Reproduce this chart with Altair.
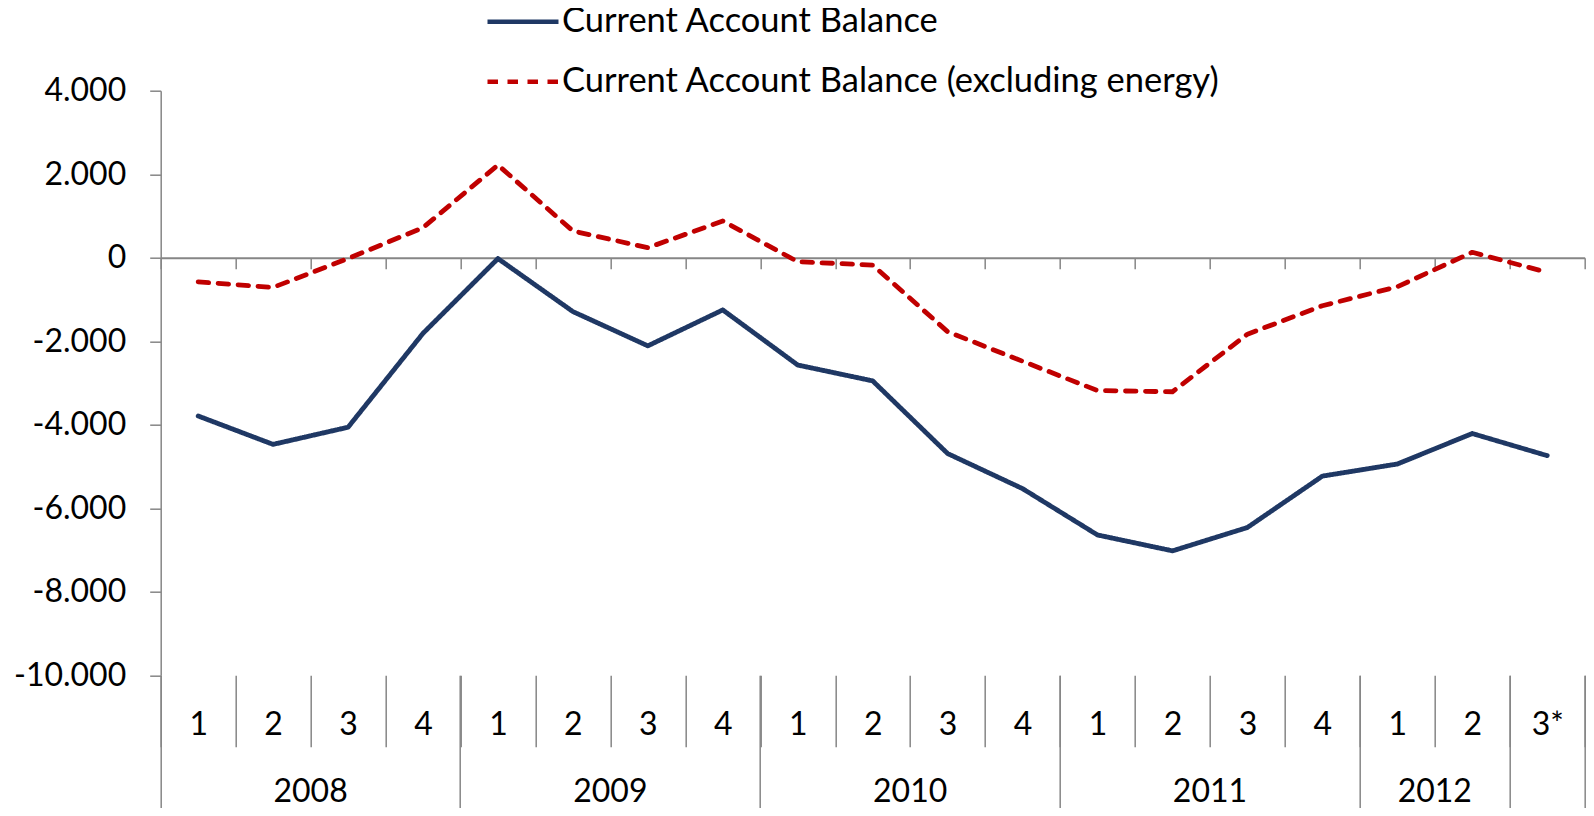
import altair as alt
import pandas as pd

# ---- data ----
quarters = ["1", "2", "3", "4", "1", "2", "3", "4", "1", "2", "3", "4",
            "1", "2", "3", "4", "1", "2", "3*"]
groups = ["2008"] * 4 + ["2009"] * 4 + ["2010"] * 4 + ["2011"] * 4 + ["2012"] * 2 + [""]
cab = [-3790, -4470, -4060, -1810, -20, -1290, -2110, -1250, -2570, -2950,
       -4690, -5530, -6640, -7020, -6460, -5230, -4940, -4210, -4740]
cab_ex = [-580, -710, -20, 720, 2220, 640, 240, 880, -96, -175,
          -1772, -2480, -3180, -3210, -1830, -1150, -695, 130, -350]
series_names = ["Current Account Balance", "Current Account Balance (excluding energy)"]
series_colors = ["#1F3864", "#C00000"]
y_ticks = [-10000, -8000, -6000, -4000, -2000, 0, 2000, 4000]
y_domain = [-10000, 4000]

# ---- derived tables ----
keys = [f"{g}|{q}" for g, q in zip(groups, quarters)]
rows = []
for name, vals in zip(series_names, [cab, cab_ex]):
    for k, q, g, v in zip(keys, quarters, groups, vals):
        rows.append({"key": k, "quarter": q, "group": g, "series": name, "value": v})
df = pd.DataFrame(rows)
df_keys = pd.DataFrame({"key": keys})

start_keys = [keys[i] for i in range(len(keys)) if i == 0 or groups[i] != groups[i - 1]]
anchor_keys = []
for s in start_keys:
    g = s.split("|")[0]
    idx = [i for i, gg in enumerate(groups) if gg == g]
    if g and len(idx) % 2 == 0:
        anchor_keys.append(keys[idx[len(idx) // 2 - 1]])

W = 1424
H = 584.6
FONT = "Lato"
FS = 32
GRAY = "#868686"
zero_offset = -H * (0 - y_domain[0]) / (y_domain[1] - y_domain[0])
half_band = W / len(keys) / 2

xscale = alt.Scale(type="band", domain=keys, paddingInner=0, paddingOuter=0)

legend = alt.Legend(
    title=None, orient="none", legendX=324.3, legendY=-107, direction="vertical",
    symbolType="stroke", symbolSize=5041, symbolStrokeWidth=4.6,
    labelFont=FONT, labelFontSize=34.5, labelColor="black", labelLimit=0,
    labelOffset=1, rowPadding=5, padding=0,
)

lines = alt.Chart(df).mark_line(strokeWidth=4.8, strokeCap="round", strokeJoin="round").encode(
    x=alt.X("key:O", scale=xscale, bandPosition=0.5, sort=keys,
            axis=alt.Axis(orient="bottom", offset=zero_offset, tickBand="extent",
                          tickSize=11, tickColor=GRAY, tickWidth=1.5,
                          domainColor=GRAY, domainWidth=2, labels=False,
                          title=None, grid=False)),
    y=alt.Y("value:Q", scale=alt.Scale(domain=y_domain, nice=False, zero=False),
            axis=alt.Axis(values=y_ticks, orient="left", tickSize=11, tickColor=GRAY,
                          tickWidth=1.5, domainColor=GRAY, domainWidth=1.5,
                          labelFont=FONT, labelFontSize=FS, labelColor="black",
                          labelPadding=24, grid=False, title=None,
                          labelExpr="(datum.value < 0 ? '-' : '') + replace(format(abs(datum.value), ','), ',', '.')")),
    color=alt.Color("series:N", scale=alt.Scale(domain=series_names, range=series_colors),
                    legend=legend),
    strokeDash=alt.StrokeDash("series:N",
                              scale=alt.Scale(domain=series_names, range=[[1, 0], [10.5, 9.5]]),
                              legend=legend),
)

def helper(axis):
    return alt.Chart(df_keys).mark_point(opacity=0).encode(
        x=alt.X("key:O", scale=xscale, sort=keys, axis=axis)
    )

quarter_axis = helper(alt.Axis(orient="bottom", offset=0, tickBand="extent", tickSize=71.4,
                               tickColor=GRAY, tickWidth=1.5, domain=False,
                               labelExpr="split(datum.label, '|')[1]", labelFont=FONT,
                               labelFontSize=FS, labelColor="black", labelBaseline="middle",
                               labelPadding=-21.7, labelAngle=0, labelOverlap=False,
                               title=None, grid=False))
group_sep = helper(alt.Axis(orient="bottom", offset=0, bandPosition=0, values=start_keys,
                            tickSize=145, tickColor=GRAY, tickWidth=1.5, domain=False,
                            labels=False, title=None, grid=False))
end_sep = helper(alt.Axis(orient="bottom", offset=0, bandPosition=1, values=[keys[-1]],
                          tickSize=145, tickColor=GRAY, tickWidth=1.5, domain=False,
                          labels=False, title=None, grid=False))
year_axis = helper(alt.Axis(orient="bottom", offset=0, bandPosition=1, values=anchor_keys,
                            ticks=False, tickSize=0, domain=False,
                            labelExpr="split(datum.label, '|')[0]", labelFont=FONT,
                            labelFontSize=FS, labelColor="black", labelBaseline="middle",
                            labelPadding=116, labelOffset=half_band, labelAngle=0,
                            labelOverlap=False, title=None, grid=False))

chart = alt.layer(lines, quarter_axis, group_sep, end_sep, year_axis).resolve_axis(
    x="independent"
).properties(
    width=W, height=H,
    autosize=alt.AutoSizeParams(type="none"),
    padding={"left": 152.7, "top": 82.7, "right": 1, "bottom": 132.7},
).configure_view(strokeWidth=0)

chart.save("out.html", embed_options={"renderer": "svg", "actions": False})
